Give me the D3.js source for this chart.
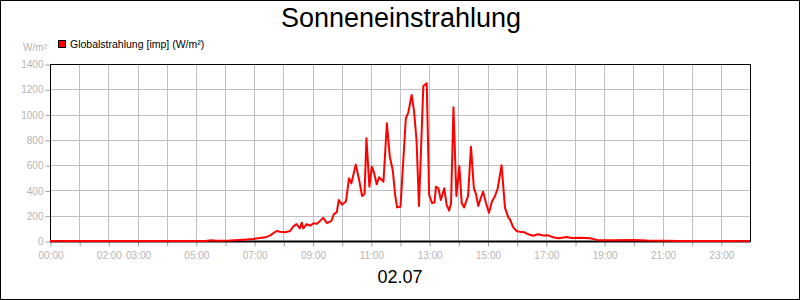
<!DOCTYPE html>
<html>
<head>
<meta charset="utf-8">
<script src="https://cdn.jsdelivr.net/npm/d3@7"></script>
<style>
  body { margin: 0; background: #fff; }
  svg { font-family: "Liberation Sans", Arial, sans-serif; }
</style>
</head>
<body>
<div class="chart"></div>
<script>
// Values (time of day, W/m²)
var times = ["00:00","05:19","05:33","05:40","06:10","06:31","06:58","07:12","07:26","07:33","07:46","07:53","08:03","08:14","08:20","08:27","08:34","08:38","08:41","08:48","08:55","09:02","09:09","09:15","09:22","09:30","09:39","09:44","09:50","09:54","10:01","10:09","10:15","10:20","10:29","10:36","10:42","10:47","10:51","10:57","11:02","11:07","11:12","11:17","11:26","11:33","11:39","11:45","11:50","11:54","12:01","12:12","12:17","12:24","12:29","12:34","12:39","12:48","12:55","13:00","13:06","13:11","13:14","13:19","13:24","13:31","13:36","13:41","13:45","13:50","13:56","14:02","14:07","14:12","14:16","14:20","14:26","14:32","14:36","14:41","14:46","14:51","14:57","15:03","15:09","15:15","15:21","15:29","15:36","15:43","15:46","15:53","16:00","16:07","16:14","16:24","16:34","16:44","16:55","17:05","17:15","17:26","17:43","17:53","18:10","18:31","18:41","18:48","19:18","19:59","20:14","20:28","21:36","24:00"];
var values = [0,0,5,2,3,8,16,24,32,45,79,74,70,79,113,134,100,145,100,134,121,140,137,157,183,142,160,213,228,324,288,315,496,456,604,482,356,372,812,430,588,535,448,504,469,931,667,562,364,266,271,970,1015,1155,1023,799,277,1226,1247,364,300,304,430,417,324,417,285,240,298,1058,356,593,298,266,311,356,746,417,377,277,338,390,298,224,311,351,417,600,262,185,172,108,79,72,72,53,42,53,44,45,29,21,32,24,26,21,13,5,5,8,5,3,0,0];
var yTicks = [0,200,400,600,800,1000,1200,1400];
var xTickLabels = ["00:00","02:00","03:00","05:00","07:00","09:00","11:00","13:00","15:00","17:00","19:00","21:00","23:00"];

var title = "Sonneneinstrahlung",
    subtitle = "02.07",
    seriesName = "Globalstrahlung [imp] (W/m²)",
    unit = "W/m²";

function toHours(t) {
  var p = t.split(":");
  return Number(p[0]) + Number(p[1]) / 60;
}

var data = times.map(function(t, i) { return {h: toHours(t), v: values[i]}; });

var W = 800, H = 300;
var margin = {top: 64, right: 50, bottom: 59, left: 50},
    width = W - margin.left - margin.right,
    height = H - margin.top - margin.bottom;

var svg = d3.select(".chart").append("svg")
    .attr("width", W)
    .attr("height", H);

// outer frame
svg.append("rect")
    .attr("x", 0.5).attr("y", 0.5)
    .attr("width", W - 1).attr("height", H - 1)
    .attr("fill", "#fff").attr("stroke", "#000");

var x = d3.scaleLinear().domain([0, 24]).range([0, width]);
var y = d3.scaleLinear().domain([0, 1400]).range([height, 0]);

var g = svg.append("g")
    .attr("transform", "translate(" + margin.left + "," + margin.top + ")");

// grid
g.append("g")
  .selectAll("line")
  .data(d3.range(1, 24))
  .enter().append("line")
    .attr("x1", function(d) { return Math.round(x(d)) + 0.5; })
    .attr("x2", function(d) { return Math.round(x(d)) + 0.5; })
    .attr("y1", 0).attr("y2", height)
    .attr("stroke", "#c0c0c0");

g.append("g")
  .selectAll("line")
  .data(yTicks.slice(1))
  .enter().append("line")
    .attr("x1", 0).attr("x2", width)
    .attr("y1", function(d) { return Math.round(y(d)) + 0.5; })
    .attr("y2", function(d) { return Math.round(y(d)) + 0.5; })
    .attr("stroke", "#c0c0c0");

// y axis
var yAxis = g.append("g")
    .attr("transform", "translate(0.5,0.5)")
    .call(d3.axisLeft(y).tickValues(yTicks).tickSize(5).tickPadding(2).tickSizeOuter(0)
      .tickFormat(d3.format("d")));
yAxis.select(".domain").remove();
yAxis.selectAll(".tick line").attr("stroke", "#a0a0a0");
yAxis.selectAll("text")
    .attr("fill", "#b4b4b4")
    .style("font-size", "10px")
    .style("font-family", "Liberation Sans, Arial, sans-serif");

// x axis
var xAxis = g.append("g")
    .attr("transform", "translate(0.5," + (height + 0.5) + ")")
    .call(d3.axisBottom(x).tickValues(d3.range(0, 24)).tickSize(5).tickPadding(5).tickSizeOuter(0)
      .tickFormat(function(d) {
        var s = (d < 10 ? "0" : "") + d + ":00";
        return xTickLabels.indexOf(s) >= 0 ? s : "";
      }));
xAxis.select(".domain").remove();
xAxis.selectAll(".tick line").attr("stroke", "#a0a0a0");
xAxis.selectAll("text")
    .attr("fill", "#b4b4b4")
    .style("font-size", "10px")
    .style("font-family", "Liberation Sans, Arial, sans-serif");

// plot frame
g.append("rect")
    .attr("x", 0.5).attr("y", 0.5)
    .attr("width", width).attr("height", height)
    .attr("fill", "none").attr("stroke", "#000");
g.append("line")
    .attr("x1", 0).attr("x2", width)
    .attr("y1", height + 0.5).attr("y2", height + 0.5)
    .attr("stroke", "#000").attr("stroke-width", 2);

// the series
var line = d3.line()
    .x(function(d) { return x(d.h); })
    .y(function(d) { return y(d.v); });

g.append("path")
    .datum(data)
    .attr("d", line)
    .attr("fill", "none")
    .attr("stroke", "#ff0000")
    .attr("stroke-width", 2)
    .attr("stroke-linejoin", "round");

// titles
svg.append("text")
    .attr("x", W / 2 + 1).attr("y", 27)
    .attr("text-anchor", "middle")
    .style("font-size", "27px")
    .text(title);

svg.append("text")
    .attr("x", W / 2).attr("y", 283)
    .attr("text-anchor", "middle")
    .style("font-size", "18px")
    .text(subtitle);

svg.append("text")
    .attr("x", 47).attr("y", 51)
    .attr("text-anchor", "end")
    .attr("fill", "#b4b4b4")
    .style("font-size", "10px")
    .text(unit);

// legend
svg.append("rect")
    .attr("x", 58.5).attr("y", 40.5)
    .attr("width", 7).attr("height", 7)
    .attr("fill", "#ff0000").attr("stroke", "#000");
svg.append("text")
    .attr("x", 70).attr("y", 48)
    .style("font-size", "10.5px")
    .text(seriesName);
</script>
</body>
</html>
